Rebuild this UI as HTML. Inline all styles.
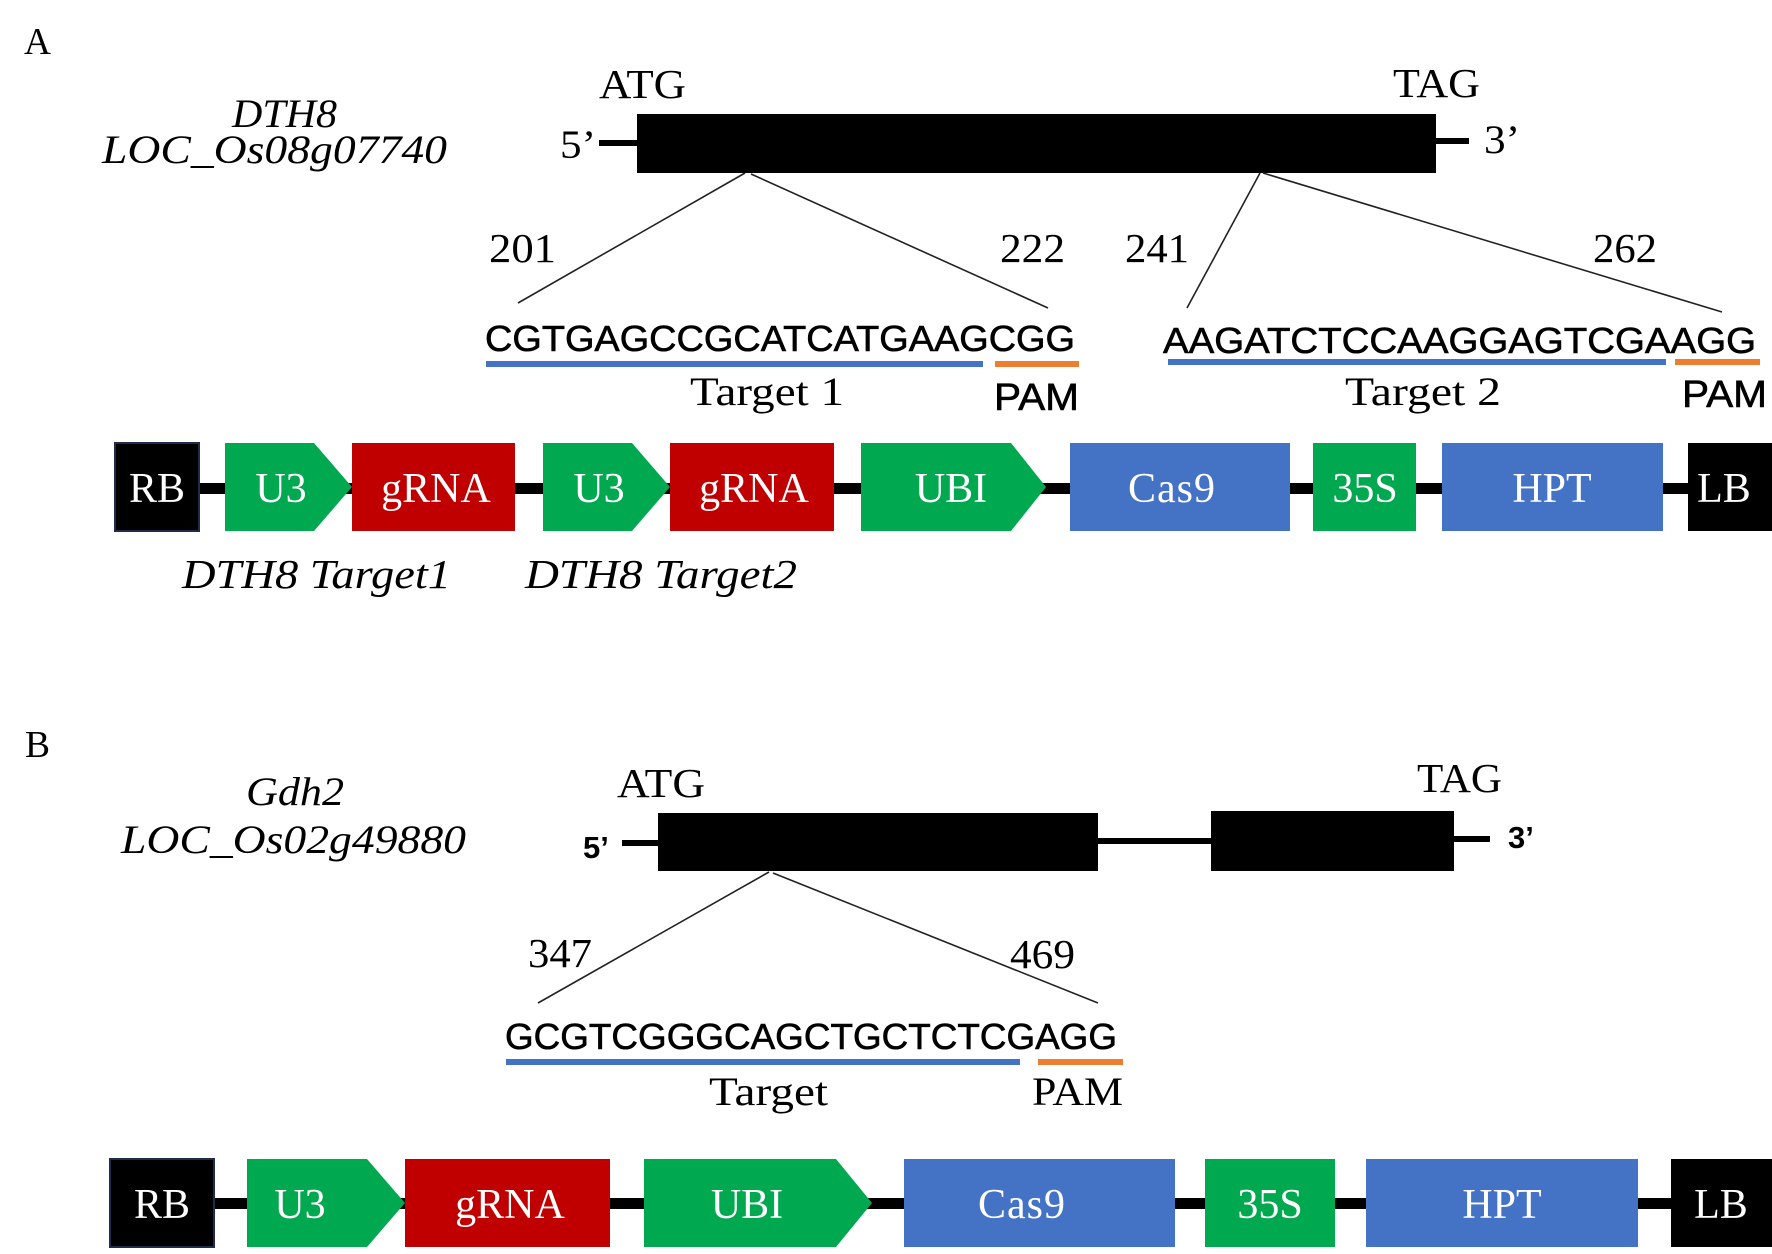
<!DOCTYPE html>
<html>
<head>
<meta charset="utf-8">
<style>
html,body{margin:0;padding:0;background:#fff;}
svg{display:block;}
.serif{font-family:"Liberation Serif","Times New Roman",serif;}
.sans{font-family:"Liberation Sans",Arial,sans-serif;}
.seq{stroke:#000;stroke-width:0.6;}
</style>
</head>
<body>
<svg width="1772" height="1254" viewBox="0 0 1772 1254" xmlns="http://www.w3.org/2000/svg">
<rect width="1772" height="1254" fill="#fff"/>

<!-- ================= PANEL A ================= -->
<text class="serif" x="24" y="54" font-size="38" textLength="27" lengthAdjust="spacingAndGlyphs">A</text>
<text class="serif" x="232" y="127" font-size="40" font-style="italic" textLength="105" lengthAdjust="spacingAndGlyphs">DTH8</text>
<text class="serif" x="102" y="163" font-size="40" font-style="italic" textLength="345" lengthAdjust="spacingAndGlyphs">LOC_Os08g07740</text>

<text class="serif" x="599" y="98" font-size="41" textLength="87" lengthAdjust="spacingAndGlyphs">ATG</text>
<text class="serif" x="1393" y="97" font-size="41" textLength="87" lengthAdjust="spacingAndGlyphs">TAG</text>

<text class="serif" x="560" y="158" font-size="40" textLength="36" lengthAdjust="spacingAndGlyphs">5’</text>
<rect x="599" y="140" width="40" height="6" fill="#000"/>
<rect x="637" y="114" width="799" height="59" fill="#000"/>
<rect x="1434" y="138" width="35" height="6" fill="#000"/>
<text class="serif" x="1484" y="153" font-size="40" textLength="36" lengthAdjust="spacingAndGlyphs">3’</text>

<g stroke="#222" stroke-width="1.6" fill="none">
  <line x1="745" y1="173" x2="518" y2="303"/>
  <line x1="751" y1="174" x2="1048" y2="308"/>
  <line x1="1260" y1="173" x2="1187" y2="308"/>
  <line x1="1263" y1="173" x2="1722" y2="312"/>
</g>

<text class="serif" x="489" y="262" font-size="41" textLength="67" lengthAdjust="spacingAndGlyphs">201</text>
<text class="serif" x="1000" y="262" font-size="41" textLength="65" lengthAdjust="spacingAndGlyphs">222</text>
<text class="serif" x="1125" y="262" font-size="41" textLength="64" lengthAdjust="spacingAndGlyphs">241</text>
<text class="serif" x="1593" y="262" font-size="41" textLength="64" lengthAdjust="spacingAndGlyphs">262</text>

<text class="sans seq" x="485" y="351" font-size="36" textLength="590" lengthAdjust="spacingAndGlyphs">CGTGAGCCGCATCATGAAGCGG</text>
<rect x="486" y="361" width="497" height="6" fill="#4472c4"/>
<rect x="995" y="361" width="84" height="6" fill="#ed7d31"/>
<text class="serif" x="690" y="405" font-size="40" textLength="154" lengthAdjust="spacingAndGlyphs">Target 1</text>
<text class="sans seq" x="994" y="410" font-size="38" textLength="85" lengthAdjust="spacingAndGlyphs">PAM</text>

<text class="sans seq" x="1163" y="353" font-size="36" textLength="593" lengthAdjust="spacingAndGlyphs">AAGATCTCCAAGGAGTCGAAGG</text>
<rect x="1168" y="359" width="498" height="6" fill="#4472c4"/>
<rect x="1675" y="359" width="85" height="6" fill="#ed7d31"/>
<text class="serif" x="1345" y="405" font-size="40" textLength="156" lengthAdjust="spacingAndGlyphs">Target 2</text>
<text class="sans seq" x="1682" y="407" font-size="38" textLength="85" lengthAdjust="spacingAndGlyphs">PAM</text>

<!-- construct A -->
<rect x="199" y="483" width="1490" height="11" fill="#000"/>
<rect x="115" y="443" width="84" height="88" fill="#000" stroke="#1f2d4a" stroke-width="2"/>
<polygon points="225,443 314,443 352,487 314,531 225,531" fill="#00a84f"/>
<rect x="352" y="443" width="163" height="88" fill="#c00000"/>
<polygon points="543,443 632,443 670,487 632,531 543,531" fill="#00a84f"/>
<rect x="670" y="443" width="164" height="88" fill="#c00000"/>
<polygon points="861,443 1011,443 1046,487 1011,531 861,531" fill="#00a84f"/>
<rect x="1070" y="443" width="220" height="88" fill="#4472c4"/>
<rect x="1313" y="443" width="103" height="88" fill="#00a84f"/>
<rect x="1442" y="443" width="221" height="88" fill="#4472c4"/>
<rect x="1688" y="443" width="84" height="88" fill="#000"/>

<g class="serif" font-size="42" fill="#fff" text-anchor="middle">
  <text x="157" y="502">RB</text>
  <text x="281" y="502">U3</text>
  <text x="436" y="502">gRNA</text>
  <text x="599" y="502">U3</text>
  <text x="754" y="502">gRNA</text>
  <text x="951" y="502">UBI</text>
  <text x="1172" y="502" letter-spacing="1">Cas9</text>
  <text x="1365" y="502">35S</text>
  <text x="1552" y="502">HPT</text>
  <text x="1724" y="502">LB</text>
</g>

<text class="serif" x="182" y="588" font-size="41" font-style="italic" textLength="269" lengthAdjust="spacingAndGlyphs">DTH8 Target1</text>
<text class="serif" x="525" y="588" font-size="41" font-style="italic" textLength="272" lengthAdjust="spacingAndGlyphs">DTH8 Target2</text>

<!-- ================= PANEL B ================= -->
<text class="serif" x="25" y="757" font-size="38" textLength="25" lengthAdjust="spacingAndGlyphs">B</text>
<text class="serif" x="246" y="805" font-size="40" font-style="italic" textLength="98" lengthAdjust="spacingAndGlyphs">Gdh2</text>
<text class="serif" x="121" y="853" font-size="40" font-style="italic" textLength="345" lengthAdjust="spacingAndGlyphs">LOC_Os02g49880</text>

<text class="serif" x="617" y="797" font-size="41" textLength="88" lengthAdjust="spacingAndGlyphs">ATG</text>
<text class="serif" x="1417" y="792" font-size="41" textLength="85" lengthAdjust="spacingAndGlyphs">TAG</text>

<text class="sans" x="583" y="858" font-size="31" font-weight="bold">5’</text>
<rect x="622" y="840" width="38" height="6" fill="#000"/>
<rect x="658" y="813" width="440" height="58" fill="#000"/>
<rect x="1096" y="838" width="117" height="6" fill="#000"/>
<rect x="1211" y="811" width="243" height="60" fill="#000"/>
<rect x="1452" y="836" width="38" height="6" fill="#000"/>
<text class="sans" x="1508" y="848" font-size="31" font-weight="bold">3’</text>

<g stroke="#222" stroke-width="1.6" fill="none">
  <line x1="769" y1="872" x2="538" y2="1003"/>
  <line x1="773" y1="873" x2="1098" y2="1003"/>
</g>

<text class="serif" x="528" y="967" font-size="41" textLength="64" lengthAdjust="spacingAndGlyphs">347</text>
<text class="serif" x="1010" y="968" font-size="41" textLength="65" lengthAdjust="spacingAndGlyphs">469</text>

<text class="sans seq" x="505" y="1049" font-size="36" textLength="612" lengthAdjust="spacingAndGlyphs">GCGTCGGGCAGCTGCTCTCGAGG</text>
<rect x="506" y="1059" width="514" height="6" fill="#4472c4"/>
<rect x="1038" y="1059" width="85" height="6" fill="#ed7d31"/>
<text class="serif" x="709" y="1105" font-size="40" textLength="119" lengthAdjust="spacingAndGlyphs">Target</text>
<text class="serif" x="1032" y="1105" font-size="40" textLength="91" lengthAdjust="spacingAndGlyphs">PAM</text>

<!-- construct B -->
<rect x="214" y="1198" width="1458" height="11" fill="#000"/>
<rect x="110" y="1159" width="104" height="88" fill="#000" stroke="#1f2d4a" stroke-width="2"/>
<polygon points="247,1159 367,1159 405,1203 367,1247 247,1247" fill="#00a84f"/>
<rect x="405" y="1159" width="205" height="88" fill="#c00000"/>
<polygon points="644,1159 836,1159 872,1203 836,1247 644,1247" fill="#00a84f"/>
<rect x="904" y="1159" width="271" height="88" fill="#4472c4"/>
<rect x="1205" y="1159" width="130" height="88" fill="#00a84f"/>
<rect x="1366" y="1159" width="272" height="88" fill="#4472c4"/>
<rect x="1671" y="1159" width="101" height="88" fill="#000"/>

<g class="serif" font-size="42" fill="#fff" text-anchor="middle">
  <text x="162" y="1218">RB</text>
  <text x="300" y="1218">U3</text>
  <text x="510" y="1218">gRNA</text>
  <text x="747" y="1218">UBI</text>
  <text x="1022" y="1218" letter-spacing="1">Cas9</text>
  <text x="1270" y="1218">35S</text>
  <text x="1502" y="1218">HPT</text>
  <text x="1721" y="1218">LB</text>
</g>
</svg>
</body>
</html>
